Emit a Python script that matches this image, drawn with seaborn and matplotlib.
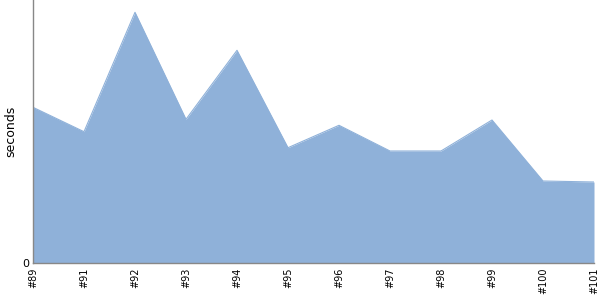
import numpy as np
import pandas as pd
import matplotlib
matplotlib.use("Agg")
import matplotlib.pyplot as plt
import seaborn as sns

builds = ["#89", "#91", "#92", "#93", "#94", "#95", "#96", "#97", "#98", "#99", "#100", "#101"]
seconds = [155.7, 131.3, 250.7, 143.7, 212.7, 115.3, 137.7, 112.0, 112.0, 143.0, 82.0, 81.0]

sns.set_theme(style="white")
plt.rcParams['font.family'] = ['DejaVu Sans']

df = pd.DataFrame({"pos": np.arange(len(builds)), "build": builds, "seconds": seconds})

fig = plt.figure(figsize=(6, 3), dpi=100)
ax = fig.add_axes([33/600, 37/300, (594-33)/600, 263/300])

color = "#8fb1d9"
sns.lineplot(data=df, x="pos", y="seconds", ax=ax, color=color, linewidth=0.8)
ax.fill_between(df["pos"], 0, df["seconds"], color=color, linewidth=0)

ax.set_xlim(0, len(builds) - 1)
ax.set_ylim(0, 263)
ax.set_xticks(df["pos"])
ax.set_xticklabels(builds, rotation=90, fontsize=7, color="black")
ax.set_yticks([0])
ax.set_yticklabels(["0"], fontsize=8, color="black")
ax.set_xlabel("")
ax.set_ylabel("seconds", fontsize=9, labelpad=3, color="black")
ax.tick_params(axis="both", length=0, pad=3)
for s in ["top", "right"]:
    ax.spines[s].set_visible(False)
for s in ["left", "bottom"]:
    ax.spines[s].set_color("#888888")
    ax.spines[s].set_linewidth(1)

fig.savefig("out.png", dpi=100)
